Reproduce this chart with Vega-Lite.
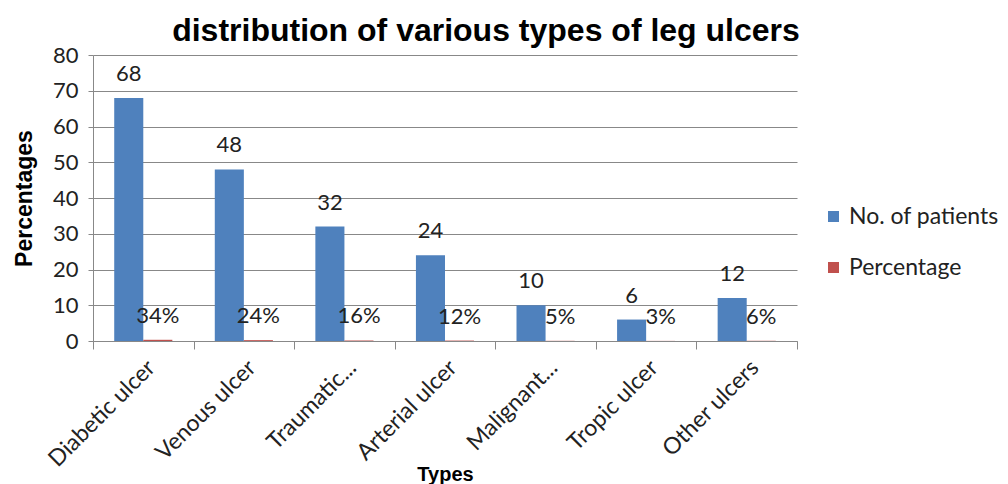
{
  "$schema": "https://vega.github.io/schema/vega-lite/v6.json",
  "width": 704,
  "height": 286,
  "autosize": {"type": "none"},
  "padding": {"left": 93, "top": 55, "right": 211, "bottom": 143},
  "background": "white",
  "title": {
    "text": "distribution of various types of leg ulcers",
    "font": "Liberation Sans",
    "fontSize": 32,
    "fontWeight": "bold",
    "color": "#000000",
    "anchor": "middle",
    "dx": 41,
    "offset": -4
  },
  "data": {
    "values": [
      {"type": "Diabetic ulcer", "series": "No. of patients", "value": 68, "label": "68"},
      {"type": "Diabetic ulcer", "series": "Percentage", "value": 0.34, "label": "34%"},
      {"type": "Venous ulcer", "series": "No. of patients", "value": 48, "label": "48"},
      {"type": "Venous ulcer", "series": "Percentage", "value": 0.24, "label": "24%"},
      {"type": "Traumatic...", "series": "No. of patients", "value": 32, "label": "32"},
      {"type": "Traumatic...", "series": "Percentage", "value": 0.16, "label": "16%"},
      {"type": "Arterial ulcer", "series": "No. of patients", "value": 24, "label": "24"},
      {"type": "Arterial ulcer", "series": "Percentage", "value": 0.12, "label": "12%"},
      {"type": "Malignant...", "series": "No. of patients", "value": 10, "label": "10"},
      {"type": "Malignant...", "series": "Percentage", "value": 0.05, "label": "5%"},
      {"type": "Tropic ulcer", "series": "No. of patients", "value": 6, "label": "6"},
      {"type": "Tropic ulcer", "series": "Percentage", "value": 0.03, "label": "3%"},
      {"type": "Other ulcers", "series": "No. of patients", "value": 12, "label": "12"},
      {"type": "Other ulcers", "series": "Percentage", "value": 0.06, "label": "6%"}
    ]
  },
  "encoding": {
    "x": {
      "field": "type",
      "type": "nominal",
      "sort": null,
      "scale": {"paddingInner": 0, "paddingOuter": 0},
      "axis": {
        "title": "Types",
        "titleFont": "Liberation Sans",
        "titleFontSize": 20,
        "titleFontWeight": "bold",
        "titleColor": "#000000",
        "titlePadding": -7,
        "labelAngle": -45,
        "labelFont": "Lato",
        "labelFontSize": 23,
        "labelColor": "#222222",
        "labelPadding": 7,
        "tickBand": "extent",
        "tickSize": 8,
        "tickColor": "#888888",
        "domainColor": "#888888",
        "grid": false
      }
    },
    "xOffset": {
      "field": "series",
      "type": "nominal",
      "sort": ["No. of patients", "Percentage"],
      "scale": {"paddingInner": 0, "paddingOuter": 0.73}
    },
    "y": {
      "field": "value",
      "type": "quantitative",
      "scale": {"domain": [0, 80], "nice": false},
      "axis": {
        "title": "Percentages",
        "titleFont": "Liberation Sans",
        "titleFontSize": 23,
        "titleFontWeight": "bold",
        "titleColor": "#000000",
        "titlePadding": 16,
        "values": [0, 10, 20, 30, 40, 50, 60, 70, 80],
        "labelFont": "Lato",
        "labelFontSize": 22,
        "labelColor": "#222222",
        "labelPadding": 10,
        "tickSize": 5,
        "tickColor": "#888888",
        "domainColor": "#888888",
        "grid": true,
        "gridColor": "#888888"
      }
    }
  },
  "layer": [
    {
      "mark": {"type": "bar"},
      "encoding": {
        "color": {
          "field": "series",
          "type": "nominal",
          "scale": {"domain": ["No. of patients", "Percentage"], "range": ["#4F81BD", "#C0504D"]},
          "legend": {
            "title": null,
            "orient": "none",
            "legendX": 729,
            "legendY": 150,
            "labelFont": "Lato",
            "labelFontSize": 23,
            "labelColor": "#222222",
            "symbolType": "square",
            "symbolSize": 121,
            "symbolStrokeWidth": 0,
            "rowPadding": 27,
            "labelOffset": 4
          }
        }
      }
    },
    {
      "mark": {"type": "text", "font": "Lato", "fontSize": 22, "color": "#222222", "dy": -24, "baseline": "middle", "align": "center"},
      "encoding": {"text": {"field": "label"}}
    }
  ],
  "config": {"view": {"stroke": null}}
}
